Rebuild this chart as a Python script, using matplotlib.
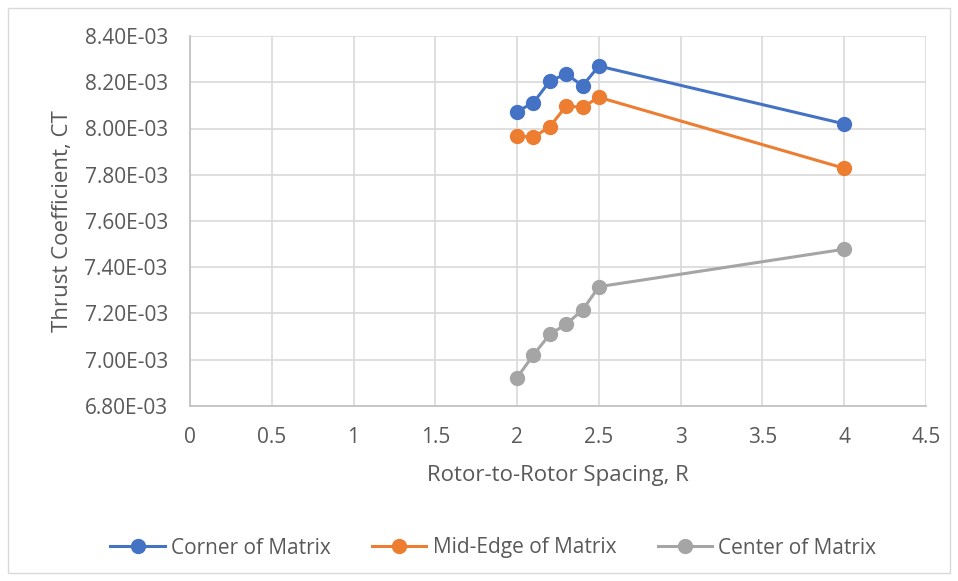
import matplotlib
matplotlib.use("Agg")
import matplotlib.pyplot as plt
from matplotlib.patches import Rectangle
from matplotlib.ticker import FuncFormatter, MultipleLocator

spacing = [2.0, 2.1, 2.2, 2.3, 2.4, 2.5, 4.0]
corner = [8.073e-3, 8.112e-3, 8.205e-3, 8.236e-3, 8.185e-3, 8.270e-3, 8.020e-3]
mid_edge = [7.968e-3, 7.962e-3, 8.008e-3, 8.097e-3, 8.092e-3, 8.135e-3, 7.828e-3]
center = [6.923e-3, 7.021e-3, 7.110e-3, 7.154e-3, 7.215e-3, 7.316e-3, 7.478e-3]
series_names = ["Corner of Matrix", "Mid-Edge of Matrix", "Center of Matrix"]
colors = ["#4472C4", "#ED7D31", "#A5A5A5"]

plt.rcParams['font.family'] = ['Open Sans', 'DejaVu Sans']
txt = "#595959"

fig = plt.figure(figsize=(9.58, 5.81), dpi=100)
fig.patches.append(Rectangle((8/958, 8/581), 942/958, 565/581, transform=fig.transFigure,
                             fill=False, edgecolor="#d9d9d9", linewidth=1))
ax = fig.add_axes([190/958, 1-406/581, 736/958, 370/581])

for ys, name, c in zip([corner, mid_edge, center], series_names, colors):
    ax.plot(spacing, ys, color=c, lw=2.2, marker='o', markersize=10, label=name, zorder=3)

ax.set_xlim(0, 4.5)
ax.set_ylim(6.8e-3, 8.4e-3)
ax.xaxis.set_major_locator(MultipleLocator(0.5))
ax.yaxis.set_major_locator(MultipleLocator(0.2e-3))
ax.xaxis.set_major_formatter(FuncFormatter(lambda v, p: f"{v:g}"))
ax.yaxis.set_major_formatter(FuncFormatter(lambda v, p: f"{v*1e3:.2f}E-03"))
ax.grid(True, color="#d9d9d9", lw=1.2, zorder=0)
ax.set_axisbelow(True)
for s in ['top', 'right']:
    ax.spines[s].set_visible(False)
for s in ['left', 'bottom']:
    ax.spines[s].set_color("#bfbfbf")
    ax.spines[s].set_linewidth(1.2)
ax.tick_params(length=0, labelsize=15, labelcolor=txt)
ax.tick_params(axis='x', pad=15)
ax.tick_params(axis='y', pad=16)
ax.set_xlabel("Rotor-to-Rotor Spacing, R", fontsize=16, color=txt, labelpad=12)
ax.set_ylabel("Thrust Coefficient, CT", fontsize=16, color=txt, labelpad=8)

fig.legend(loc='center', bbox_to_anchor=(0.515, 1-548/581), ncol=3, frameon=False,
           fontsize=15, labelcolor=txt, handlelength=2.6, columnspacing=2.0, handletextpad=0.3)

fig.savefig("out.png", dpi=100)
